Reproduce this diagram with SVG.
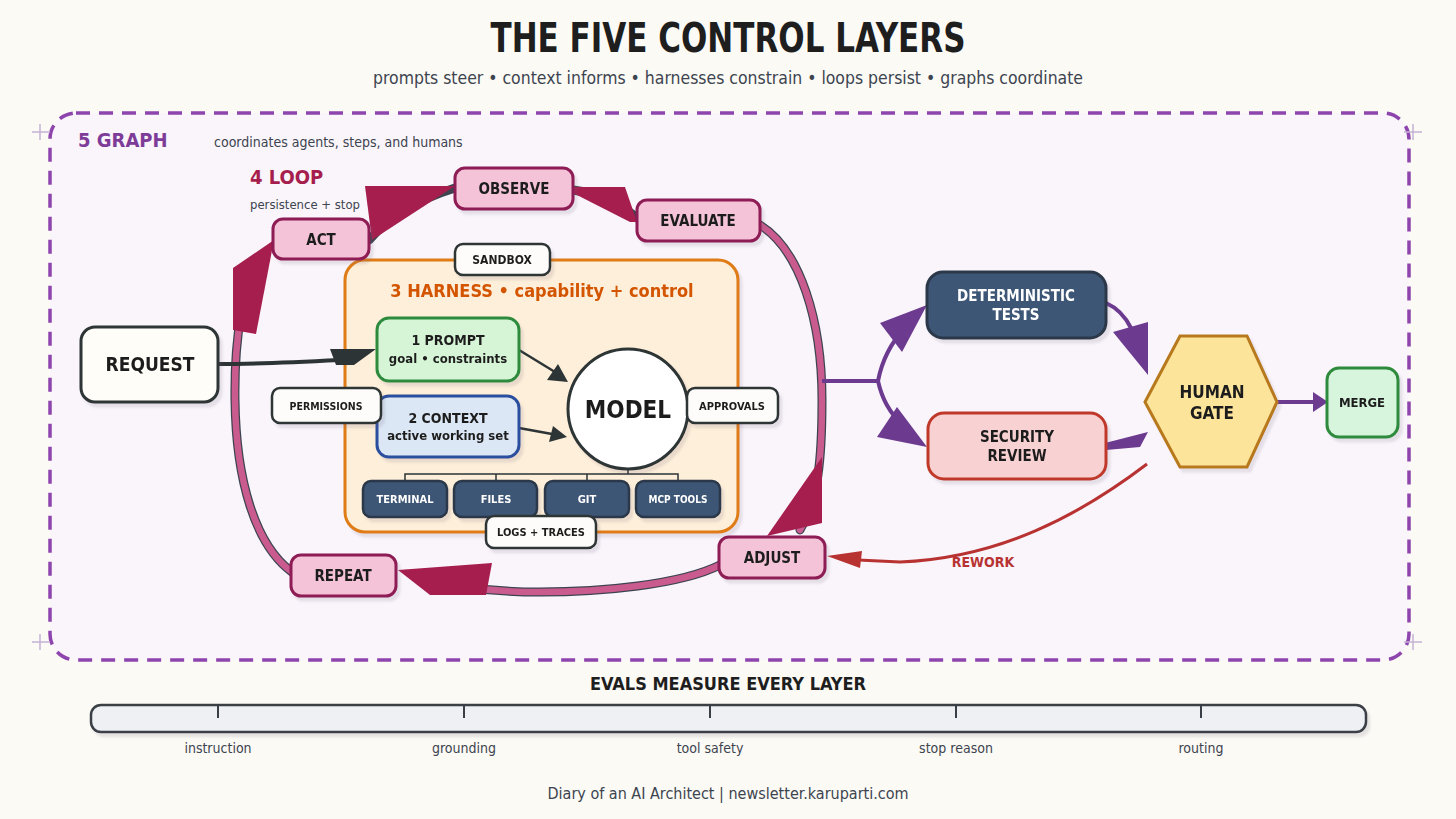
<svg xmlns="http://www.w3.org/2000/svg" width="1456" height="819" viewBox="0 0 1456 819">
<defs>
<filter id="sh" x="-20%" y="-20%" width="140%" height="150%"><feDropShadow dx="3" dy="4" stdDeviation="1" flood-color="#6b5a7a" flood-opacity="0.15"/></filter>
<style>
text{font-family:"DejaVu Sans Condensed","Liberation Sans Narrow","Liberation Sans",sans-serif;text-anchor:middle;}
.b{font-weight:bold;fill:#1e1e1e;}
.sub{fill:#3d4450;}
.loop{fill:#f4c3d8;stroke:#8e1b55;stroke-width:3;}
.lt{fill:#fdfcfa;stroke:#2d3436;stroke-width:2.5;}
.tool{fill:#3e5676;stroke:#2a3748;stroke-width:2.5;}
.wt{font-weight:bold;fill:#ffffff;}
.ringd{fill:none;stroke:#3d4450;stroke-width:9;stroke-linecap:round;}
.ringp{fill:none;stroke:#c95b8f;stroke-width:6.5;stroke-linecap:round;}
.ah{fill:#a61e4d;}
.pur{fill:none;stroke:#6c3a8f;stroke-width:4;}
.pah{fill:#6c3a8f;}
</style>
</defs>
<rect x="0" y="0" width="1456" height="819" fill="#fbfaf5"/>

<text class="b" x="728" y="52" font-size="40" textLength="475" lengthAdjust="spacingAndGlyphs">THE FIVE CONTROL LAYERS</text>
<text class="sub" x="728" y="84" font-size="18" textLength="710" lengthAdjust="spacingAndGlyphs">prompts steer • context informs • harnesses constrain • loops persist • graphs coordinate</text>

<g id="graph-layer">
<rect x="50" y="113" width="1359" height="547" rx="26" fill="#f9f5fb" stroke="#8e44ad" stroke-width="3.5" stroke-dasharray="14 9"/>
<g stroke="#c6b3d6" stroke-width="1.5"><path d="M32 132h18M40 124v16M1404 132h18M1413 124v16M32 642h18M40 634v16M1404 642h18M1413 634v16"/></g>
<text x="78" y="147" font-size="20" font-weight="bold" fill="#7d3c98" style="text-anchor:start">5 GRAPH</text>
<text class="sub" x="214" y="147" font-size="14" style="text-anchor:start">coordinates agents, steps, and humans</text>
</g>

<text x="250" y="184" font-size="20" font-weight="bold" fill="#a61e4d" style="text-anchor:start">4 LOOP</text>
<text class="sub" x="250" y="209" font-size="13" style="text-anchor:start" textLength="110" lengthAdjust="spacingAndGlyphs">persistence + stop</text>

<g id="connectors">
<!-- loop ring -->
<path class="ringd" d="M760 225 C800 250 822 320 822 400 C822 460 818 500 800 530"/>
<path class="ringp" d="M760 225 C800 250 822 320 822 400 C822 460 818 500 800 530"/>
<path class="ringd" d="M720 565 C680 585 600 592 540 592 C500 592 460 588 420 580"/>
<path class="ringp" d="M720 565 C680 585 600 592 540 592 C500 592 460 588 420 580"/>
<path class="ringd" d="M292 572 C255 545 236 480 235 400 C234 330 245 290 255 260"/>
<path class="ringp" d="M292 572 C255 545 236 480 235 400 C234 330 245 290 255 260"/>
<path class="ringd" d="M369 240 Q400 205 455 188"/>
<path class="ringd" d="M573 190 Q610 195 637 218"/>
<polygon class="ah" points="822,457 822,523 767,536"/>
<polygon class="ah" points="398,570 492,563 486,595 430,595"/>
<polygon class="ah" points="233,268 274,240 256,334 233,330"/>
<polygon class="ah" points="365,186 455,186 372,240"/>
<polygon class="ah" points="573,187 625,187 637,222 630,222 573,193"/>

<!-- ring to checks -->
<path class="pur" d="M822 381 H878"/>
<path class="pur" d="M878 381 Q884 350 905 328"/>
<path class="pur" d="M878 381 Q884 408 902 424"/>
<polygon class="pah" points="880,323 927,305 902,352"/>
<polygon class="pah" points="877,437 897,407 927,447"/>
<path class="pur" d="M1106 303 Q1122 310 1131 328"/>
<polygon class="pah" points="1113,332 1148,322 1148,375"/>
<path class="pur" d="M1106 447 L1130 440"/>
<polygon class="pah" points="1105,443 1148,432 1140,447 1106,450"/>
<path class="pur" d="M1277 402 H1315"/>
<polygon class="pah" points="1313,392 1328,402 1313,412"/>

<!-- rework -->
<path d="M1147 464 C1080 515 1000 558 900 562 L858 560" fill="none" stroke="#b83232" stroke-width="3"/>
<polygon points="827,556 862,551 860,568" fill="#b83232"/>
<text x="983" y="567" font-size="14" font-weight="bold" fill="#b83232">REWORK</text>
</g>

<g id="harness" filter="url(#sh)">
<rect x="345" y="260" width="393" height="272" rx="20" fill="#fdefd9" stroke="#e07b16" stroke-width="3"/>
<text x="542" y="297" font-size="18" font-weight="bold" fill="#d35400">3 HARNESS • capability + control</text>
</g>

<g id="inner-connectors">
<!-- request to prompt -->
<path d="M218 364 C260 364 300 362 340 360" fill="none" stroke="#2d3436" stroke-width="4"/>
<polygon points="330,349 376,349 354,365 336,365" fill="#2d3436"/>
<!-- prompt/context to model -->
<path d="M519 350 L555 372" stroke="#2d3436" stroke-width="2.5" fill="none"/>
<polygon points="547,380 568,382 558,364" fill="#2d3436"/>
<path d="M519 428 L552 434" stroke="#2d3436" stroke-width="2.5" fill="none"/>
<polygon points="549,442 567,437 553,426" fill="#2d3436"/>
<!-- tool tree -->
<path d="M628 469 V474 M405 481 V474 H678 V481 M496 474 V481 M587 474 V481" fill="none" stroke="#2d3436" stroke-width="1.5"/>
</g>

<g id="observe" filter="url(#sh)"><rect class="loop" x="455" y="168" width="118" height="41" rx="10"/><text class="b" x="514" y="194" font-size="15">OBSERVE</text></g>
<g id="evaluate" filter="url(#sh)"><rect class="loop" x="637" y="200" width="123" height="41" rx="10"/><text class="b" x="698" y="226" font-size="15">EVALUATE</text></g>
<g id="act" filter="url(#sh)"><rect class="loop" x="273" y="219" width="96" height="40" rx="10"/><text class="b" x="321" y="245" font-size="15">ACT</text></g>
<g id="repeat" filter="url(#sh)"><rect class="loop" x="291" y="555" width="105" height="41" rx="10"/><text class="b" x="343" y="581" font-size="15">REPEAT</text></g>
<g id="adjust" filter="url(#sh)"><rect class="loop" x="719" y="537" width="106" height="41" rx="10"/><text class="b" x="772" y="563" font-size="15">ADJUST</text></g>

<g id="sandbox" filter="url(#sh)"><rect class="lt" x="455" y="244" width="95" height="31" rx="8" fill="#f5f7fa"/><text class="b" x="502" y="264" font-size="12">SANDBOX</text></g>

<g id="request" filter="url(#sh)"><rect x="81" y="327" width="137" height="75" rx="14" fill="#fffdf7" stroke="#2d3436" stroke-width="3"/><text class="b" x="150" y="371" font-size="19">REQUEST</text></g>

<g id="prompt" filter="url(#sh)"><rect x="377" y="318" width="142" height="63" rx="12" fill="#d6f5d6" stroke="#2e8b3e" stroke-width="3"/><text class="b" x="448" y="345" font-size="14">1 PROMPT</text><text class="b" x="448" y="363" font-size="13">goal • constraints</text></g>
<g id="context" filter="url(#sh)"><rect x="377" y="396" width="142" height="61" rx="12" fill="#dbe7f5" stroke="#2c4f9e" stroke-width="3"/><text class="b" x="448" y="423" font-size="14">2 CONTEXT</text><text class="b" x="448" y="440" font-size="13">active working set</text></g>
<g id="permissions" filter="url(#sh)"><rect class="lt" x="272" y="388" width="109" height="35" rx="8" fill="#f5f7fa"/><text class="b" x="326" y="410" font-size="10.5">PERMISSIONS</text></g>
<g id="model" filter="url(#sh)"><circle cx="628" cy="409" r="60" fill="#ffffff" stroke="#2d3436" stroke-width="3"/><text class="b" x="628" y="418" font-size="24">MODEL</text></g>
<g id="approvals" filter="url(#sh)"><rect class="lt" x="687" y="388" width="91" height="35" rx="8" fill="#f5f7fa"/><text class="b" x="732" y="410" font-size="11">APPROVALS</text></g>

<g id="terminal" filter="url(#sh)"><rect class="tool" x="363" y="481" width="84" height="36" rx="8"/><text class="wt" x="405" y="503" font-size="11">TERMINAL</text></g>
<g id="files" filter="url(#sh)"><rect class="tool" x="454" y="481" width="83" height="36" rx="8"/><text class="wt" x="496" y="503" font-size="11">FILES</text></g>
<g id="git" filter="url(#sh)"><rect class="tool" x="545" y="481" width="84" height="36" rx="8"/><text class="wt" x="587" y="503" font-size="11">GIT</text></g>
<g id="mcp-tools" filter="url(#sh)"><rect class="tool" x="636" y="481" width="84" height="36" rx="8"/><text class="wt" x="678" y="503" font-size="10">MCP TOOLS</text></g>
<g id="logs" filter="url(#sh)"><rect class="lt" x="486" y="516" width="110" height="32" rx="8" fill="#f5f7fa"/><text class="b" x="541" y="536" font-size="11">LOGS + TRACES</text></g>

<g id="det-tests" filter="url(#sh)"><rect x="927" y="272" width="179" height="66" rx="16" fill="#3e5676" stroke="#2a3748" stroke-width="3"/><text class="wt" x="1016" y="301" font-size="15">DETERMINISTIC</text><text class="wt" x="1016" y="320" font-size="15">TESTS</text></g>
<g id="security" filter="url(#sh)"><rect x="928" y="413" width="178" height="66" rx="16" fill="#f8d2d2" stroke="#c0392b" stroke-width="3"/><text class="b" x="1017" y="442" font-size="15">SECURITY</text><text class="b" x="1017" y="461" font-size="15">REVIEW</text></g>
<g id="human-gate" filter="url(#sh)"><polygon points="1145,402 1180,336 1247,336 1277,402 1247,467 1180,467" fill="#fde49b" stroke="#b7791f" stroke-width="3"/><text class="b" x="1212" y="398" font-size="17">HUMAN</text><text class="b" x="1212" y="419" font-size="17">GATE</text></g>
<g id="merge" filter="url(#sh)"><rect x="1327" y="368" width="71" height="69" rx="12" fill="#d6f5dc" stroke="#2e8b3e" stroke-width="3"/><text class="b" x="1362" y="407" font-size="13">MERGE</text></g>

<g id="evals">
<text class="b" x="728" y="690" font-size="18">EVALS MEASURE EVERY LAYER</text>
<rect x="91" y="705" width="1275" height="27" rx="10" fill="#eef0f4" stroke="#3a3f47" stroke-width="2.5" filter="url(#sh)"/>
<path d="M218 705v13M464 705v13M710 705v13M956 705v13M1201 705v13" stroke="#3a3f47" stroke-width="2"/>
<g class="sub" font-size="14"><text x="218" y="753">instruction</text><text x="464" y="753">grounding</text><text x="710" y="753">tool safety</text><text x="956" y="753">stop reason</text><text x="1201" y="753">routing</text></g>
</g>
<text class="sub" x="728" y="799" font-size="16">Diary of an AI Architect | newsletter.karuparti.com</text>
</svg>
